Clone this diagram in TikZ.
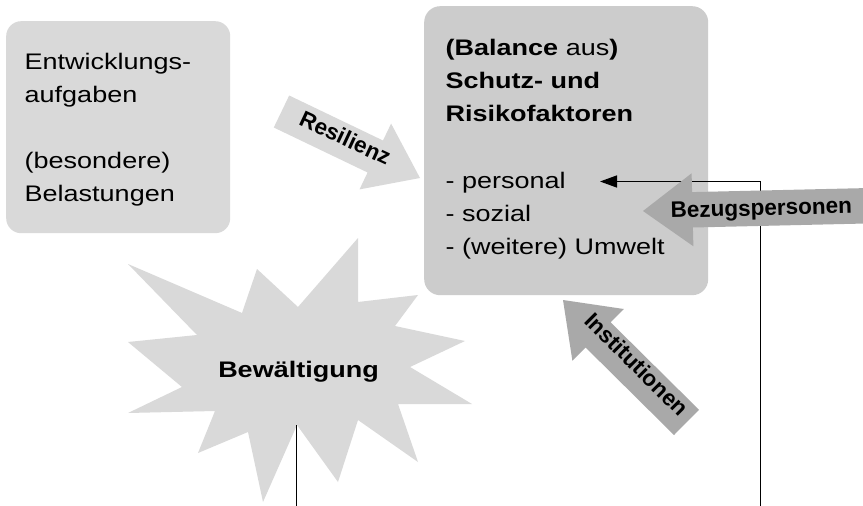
\documentclass[tikz,border=0pt]{standalone}
\usepackage{fontspec}
\setmainfont[FakeStretch=1.2]{Liberation Sans}
\newfontfamily\labelfont{Liberation Sans}
\usetikzlibrary{arrows.meta}
\definecolor{lightbox}{HTML}{D9D9D9}
\definecolor{midbox}{HTML}{CCCCCC}
\definecolor{darkarrow}{HTML}{A9A9A9}
\tikzset{
  boxtext/.style={anchor=base west, inner sep=0pt, font=\fontsize{22.5}{27}\selectfont},
  arrowlabel/.style={inner sep=0pt, font=\labelfont\bfseries\fontsize{22.5}{26}\selectfont},
  conn/.style={line width=1.5pt, draw=black},
  roundbox/.style={anchor=north west, inner sep=0pt, draw=none},
}
\begin{document}
\begin{tikzpicture}[x=1pt,y=-1pt]
\clip (0,0) rectangle (863,506);
\fill[white] (0,0) rectangle (863,506);

% boxes
\node[roundbox, fill=lightbox, rounded corners=15pt, minimum width=224pt, minimum height=212pt] (aufgabenbox) at (6,21) {};
\node[roundbox, fill=midbox, rounded corners=16pt, minimum width=284pt, minimum height=289pt] (faktorenbox) at (424,6) {};

% left box text
\node[boxtext] (l1) at (24.5,69) {Entwicklungs-};
\node[boxtext] (l2) at (24.5,102.2) {aufgaben};
\node[boxtext] (l3) at (24.5,168.6) {(besondere)};
\node[boxtext] (l4) at (24.5,201.8) {Belastungen};

% right box text
\node[boxtext] (r1) at (445.5,55) {\textbf{(Balance} aus\textbf{)}};
\node[boxtext] (r2) at (445.5,88.3) {\textbf{Schutz- und}};
\node[boxtext] (r3) at (445.5,121.6) {\textbf{Risikofaktoren}};
\node[boxtext] (personal) at (445.5,188.2) {- personal};
\node[boxtext] (sozial) at (445.5,221.5) {- sozial};
\node[boxtext] (umwelt) at (445.5,254.8) {- (weitere) Umwelt};

% starburst
\fill[lightbox] (263,502) -- (248,432) -- (198,453) -- (215,411) -- (128,413) -- (182,387)
  -- (128,342) -- (197,335) -- (128,264) -- (242,313) -- (257,269) -- (298,307)
  -- (358,238) -- (358,302) -- (418,295) -- (395,326) -- (465,341) -- (410,367)
  -- (472,404) -- (398,404) -- (418,462) -- (358,420) -- (338,482) -- (297,425) -- cycle;
\node[inner sep=0pt, anchor=base, font=\bfseries\fontsize{22.5}{27}\selectfont] (bewaeltigung) at (298.5,377) {Bewältigung};

% connectors
\coordinate (bwstart) at (296.5,425);
\coordinate (bwend) at (296.5,512);
\draw[conn] (bwstart) -- (bwend);
\coordinate (rstart) at (760.5,512);
\coordinate (rcorner) at (760.5,181.5);
\coordinate (rtip) at (600,181.5);
\draw[conn, -{Triangle[length=17pt,width=12pt]}] (rstart) -- (rcorner) -- (rtip);

% Resilienz arrow
\fill[lightbox] (289.2,95.5) -- (383.0,140.5) -- (391.1,123.6) -- (420,178) -- (359.5,189.4)
  -- (367.6,172.5) -- (273.8,127.5) -- cycle;
\node[arrowlabel, anchor=base, rotate=-25] (resilienz) at (342,145) {Resilienz};

% Bezugspersonen arrow
\fill[darkarrow] (643,211) -- (691.6,173.3) -- (692.1,192.1) -- (882.5,187.7) -- (883.3,223.1)
  -- (692.9,227.5) -- (693.4,246.3) -- cycle;
\node[arrowlabel, anchor=base, rotate=1.4] (bezug) at (761.5,215.5) {Bezugspersonen};

% Institutionen arrow
\fill[darkarrow] (563,300) -- (623.8,309.0) -- (610.6,322.3) -- (699.0,409.8) -- (674.0,435.0)
  -- (585.6,347.5) -- (572.4,360.8) -- cycle;
\node[arrowlabel, anchor=mid, rotate=-45] (institutionen) at (633,368) {Institutionen};
\end{tikzpicture}
\end{document}
